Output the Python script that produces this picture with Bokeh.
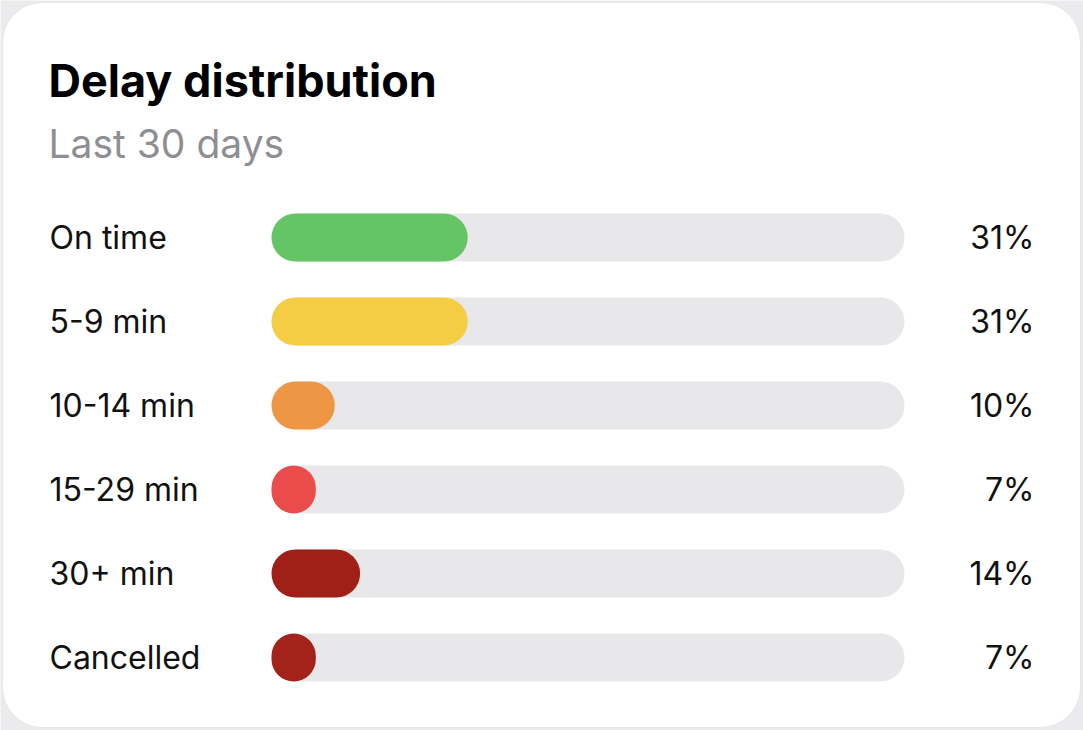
from bokeh.plotting import figure
from bokeh.models import Range1d, ColumnDataSource
from bokeh.core.properties import value
from bokeh.embed import file_html
from bokeh.resources import INLINE

# ---- data ----
categories = ["On time", "5-9 min", "10-14 min", "15-29 min", "30+ min", "Cancelled"]
percents = [31, 31, 10, 7, 14, 7]
pct_labels = ["31%", "31%", "10%", "7%", "14%", "7%"]
colors = ["#65c466", "#f5cd45", "#ef9645", "#e94c4b", "#a02018", "#a3231a"]
title_text = "Delay distribution"
subtitle_text = "Last 30 days"

# ---- layout (pixels) ----
W, H = 1083, 730
TRACK_L, TRACK_R = 271, 904
S = (TRACK_R - TRACK_L) / 100.0  # px per percent


def px(xp):
    return (xp - TRACK_L) / S


ROW0, ROW_STEP, BAR_H = 237, 84, 48
rows_y = [ROW0 + ROW_STEP * i for i in range(len(categories))]

FONT = "Inter"

p = figure(width=W, height=H, output_backend="svg", toolbar_location=None,
           x_range=Range1d(px(0), px(W)), y_range=Range1d(H, 0),
           min_border=0, outline_line_color=None,
           background_fill_color="#ebebed", border_fill_color="#ebebed")
p.axis.visible = False
p.grid.visible = False

# card
p.quad(left=[px(2)], right=[px(1080)], top=[2], bottom=[727],
       fill_color="white", line_color="#e6e6e8", line_width=1, border_radius=40)

src = ColumnDataSource(dict(y=rows_y, cat=categories, pct=percents,
                            lab=pct_labels, color=colors,
                            zero=[0] * len(categories), full=[100] * len(categories)))

# tracks
p.hbar(y="y", left="zero", right="full", height=BAR_H, source=src,
       fill_color="#e8e8ea", line_color=None, border_radius=BAR_H // 2)
# fills
p.hbar(y="y", left="zero", right="pct", height=BAR_H, source=src,
       fill_color="color", line_color=None, border_radius=BAR_H // 2)

# category labels
p.text(x=px(49), y="y", text="cat", source=src, text_font=value(FONT),
       text_font_size="32px", text_color="#111111", text_baseline="middle",
       text_align="left")
# percent labels
p.text(x=px(1034), y="y", text="lab", source=src, text_font=value(FONT),
       text_font_size="32px", text_color="#111111", text_baseline="middle",
       text_align="right")

# title & subtitle
p.text(x=[px(48)], y=[80], text=[title_text], text_font=value(FONT),
       text_font_size="45px", text_font_style="bold", text_color="#000000",
       text_baseline="middle", text_align="left")
p.text(x=[px(48)], y=[143], text=[subtitle_text], text_font=value(FONT),
       text_font_size="39px", text_color="#8e8e93",
       text_baseline="middle", text_align="left")

open("out.html", "w").write(file_html(p, INLINE))
